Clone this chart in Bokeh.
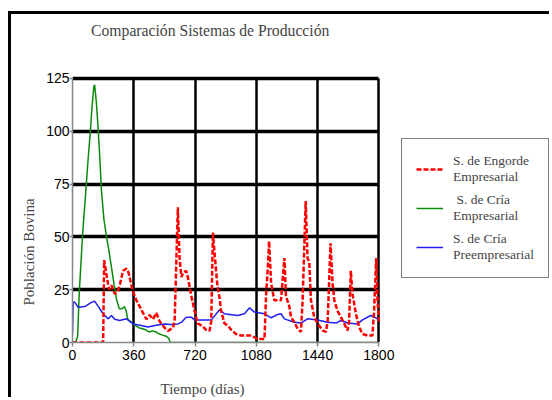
from bokeh.plotting import figure
from bokeh.models import Legend, LegendItem, Label, Range1d, Title
from bokeh.embed import file_html
from bokeh.resources import INLINE

title_text = "Comparación Sistemas de Producción"
x_label = "Tiempo (días)"
y_label = "Población Bovina"
x_ticks = [0, 360, 720, 1080, 1440, 1800]
y_ticks = [0, 25, 50, 75, 100, 125]

engorde_days = [0, 180, 186, 200, 215, 230, 248, 265, 280, 297, 317, 330, 346, 361, 375, 395,
                414, 434, 453, 473, 492, 512, 541, 561, 590, 600, 619, 629, 640, 650, 668, 680,
                698, 717, 735, 760, 785, 805, 815, 825, 835, 850, 864, 873, 893, 913, 932, 961,
                990, 1050, 1088, 1128, 1137, 1147, 1155, 1167, 1186, 1206, 1225, 1235, 1245,
                1254, 1274, 1284, 1303, 1323, 1342, 1352, 1370, 1381, 1391, 1401, 1420, 1440,
                1469, 1489, 1499, 1516, 1528, 1538, 1557, 1577, 1596, 1616, 1625, 1635, 1645,
                1665, 1684, 1704, 1733, 1762, 1772, 1784, 1792, 1800]
engorde_vals = [0, 0, 39, 32, 25, 27, 23, 24, 28, 34, 35, 33, 27, 23, 20, 17,
                14, 11, 13, 11, 14, 10, 7, 5.5, 7, 10, 64, 40, 31, 33, 34, 30,
                22, 15, 9, 8, 6, 5.5, 10, 52, 42, 28, 21, 15, 9, 8, 6, 4,
                3.3, 3.3, 1.6, 1.6, 22, 35, 48, 28, 20, 20, 20, 30, 40,
                22, 17, 12, 9.6, 6.5, 5, 20, 67, 40, 38, 20, 12, 9,
                5.7, 5, 10, 47, 28, 20, 15, 12, 9, 5.7, 10, 34, 23,
                13.6, 7.3, 4, 3.3, 3.3, 15, 40, 20, 10]

cria_emp_days = [0, 20, 30, 40, 50, 60, 75, 90, 105, 115, 125, 130, 140, 150, 160, 170, 185,
                 200, 215, 230, 245, 260, 275, 290, 305, 315, 325, 340, 355, 370, 390, 410,
                 430, 450, 470, 490, 510, 530, 550, 565, 575, 1800]
cria_emp_vals = [0, 0.5, 3, 24, 38, 52, 68, 85, 100, 112, 121, 122, 114, 102, 88, 72, 58,
                 50, 43, 35, 27, 20, 16, 16, 17, 15, 11, 10, 9, 8, 7, 6.5,
                 6, 5, 5.5, 5, 4, 3.5, 3, 2, 0, 0]

cria_pre_days = [0, 4, 14, 33, 72, 111, 131, 160, 180, 209, 229, 248, 277, 317, 356, 404,
                 444, 483, 541, 580, 619, 639, 668, 698, 717, 756, 815, 864, 893, 913, 971,
                 1010, 1040, 1069, 1128, 1167, 1206, 1225, 1245, 1303, 1342, 1381, 1440, 1499,
                 1548, 1577, 1616, 1674, 1704, 1752, 1782, 1800]
cria_pre_vals = [4, 19, 19, 16.7, 17, 19, 19.5, 16, 13.6, 11.2, 12.8, 11, 10.4, 11.2, 8.8, 8,
                 7.3, 8, 8.8, 8.5, 8.8, 9.5, 12, 12, 10.7, 10.7, 10.6, 15.5, 13.6, 13.4, 12.8,
                 13.6, 16.4, 14.4, 13.6, 11.7, 13.3, 13.6, 11.2, 9.6, 9.2, 11.2, 10.7, 9.6,
                 9.2, 10.4, 9.2, 8.8, 10.7, 12.8, 11.7, 10.7]

# frame spans to the top and right edges of the canvas; the visible chart
# area is limited by axis/grid bounds to 0..1800 x 0..125
p = figure(width=541, height=386, output_backend="svg", toolbar_location=None,
           x_range=Range1d(0, 2820), y_range=Range1d(0, 155.3),
           min_border_left=60, min_border_right=0, min_border_top=0, min_border_bottom=58)
p.styles = {"border-left": "3px solid black", "border-top": "3px solid black",
            "margin-top": "11px", "margin-left": "8px"}
p.outline_line_color = None
p.background_fill_color = "white"
p.border_fill_color = "white"

for ax in (p.xaxis[0], p.yaxis[0]):
    ax.axis_line_color = "#888888"
    ax.axis_line_width = 1.5
    ax.major_tick_line_color = "#888888"
    ax.major_tick_line_width = 1.5
    ax.minor_tick_line_color = None
    ax.major_tick_in = 0
    ax.major_label_text_font = "Liberation Sans"
    ax.major_label_text_font_size = "14px"
    ax.major_label_text_color = "black"

p.xaxis.ticker = x_ticks
p.yaxis.ticker = y_ticks
p.xaxis.bounds = (0, 1800)
p.yaxis.bounds = (0, 125)
p.xaxis.major_tick_out = 4
p.xaxis.major_label_standoff = 3
p.yaxis.major_tick_out = 3
p.yaxis.major_label_standoff = 0

p.xgrid.ticker = x_ticks[1:]
p.ygrid.ticker = y_ticks[1:]
p.xgrid.cross_bounds = (0, 125)
p.ygrid.cross_bounds = (0, 1800)
p.xgrid.grid_line_color = "black"
p.xgrid.grid_line_width = 2.5
p.ygrid.grid_line_color = "black"
p.ygrid.grid_line_width = 3.5

r_cria_emp = p.line(cria_emp_days, cria_emp_vals, line_color="#0a8a0a", line_width=1.5)
r_cria_pre = p.line(cria_pre_days, cria_pre_vals, line_color="#1f1fee", line_width=1.5)
r_engorde = p.line(engorde_days, engorde_vals, line_color="#ff0000", line_width=2.5,
                   line_dash="5 2")

legend = Legend(items=[
    LegendItem(label="S. de Engorde\nEmpresarial", renderers=[r_engorde]),
    LegendItem(label=" S. de Cría\nEmpresarial", renderers=[r_cria_emp]),
    LegendItem(label="S. de Cría\nPreempresarial", renderers=[r_cria_pre]),
], location=(329, 64))
legend.label_text_font = "Liberation Serif"
legend.label_text_font_size = "13.5px"
legend.border_line_color = "black"
legend.border_line_width = 1
legend.glyph_width = 27
legend.glyph_height = 14
legend.label_standoff = 10
legend.padding = 14
legend.spacing = 7
legend.margin = 0
p.add_layout(legend)

p.add_layout(Label(x=809, y=147.7, text=title_text, text_align="center",
                   text_baseline="middle", text_font="Liberation Serif",
                   text_font_size="15.7px"))

xl = Title(text="\n" + x_label, align="left", offset=88, standoff=4, vertical_align="top",
           text_font="Liberation Serif", text_font_size="15px", text_font_style="normal")
p.add_layout(xl, "below")
yl = Title(text=y_label, align="left", offset=37, standoff=14, vertical_align="bottom",
           text_font="Liberation Serif", text_font_size="15px", text_font_style="normal")
p.add_layout(yl, "left")

open("out.html", "w").write(file_html(p, INLINE))
